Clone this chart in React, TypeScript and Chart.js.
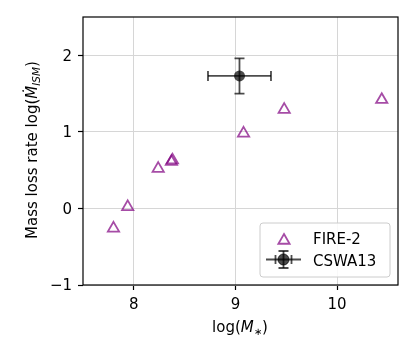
import React, { useEffect, useRef } from "react";
import { Chart, registerables } from "chart.js";

Chart.register(...registerables);

// ---- Data ----
const fireMass = [7.8, 7.94, 8.24, 8.37, 8.38, 9.08, 9.48, 10.44];
const fireRate = [-0.26, 0.02, 0.52, 0.61, 0.63, 0.98, 1.29, 1.42];

const cswaMass = [9.04];
const cswaRate = [1.73];
const cswaMassErr = [0.31];
const cswaRateErr = [0.23];

const xTicks = [8, 9, 10];
const yTicks = [-1, 0, 1, 2];
const xRange = [7.5, 10.6];
const yRange = [-1, 2.5];

const seriesNames = ["FIRE-2", "CSWA13"];

const FONT = "'DejaVu Sans', 'Liberation Sans', sans-serif";
const PURPLE = "rgba(128,0,128,0.7)";
const DARK = "rgba(0,0,0,0.7)";

type Seg = { t: string; font: string; dy?: number };

function drawRich(ctx: CanvasRenderingContext2D, segs: Seg[], cx: number, baseY: number) {
  let total = 0;
  const widths = segs.map((s) => {
    ctx.font = s.font;
    const w = ctx.measureText(s.t).width;
    total += w;
    return w;
  });
  let x = cx - total / 2;
  ctx.textAlign = "left";
  ctx.textBaseline = "alphabetic";
  segs.forEach((s, i) => {
    ctx.font = s.font;
    ctx.fillText(s.t, x, baseY + (s.dy || 0));
    x += widths[i];
  });
}

function triPath(ctx: CanvasRenderingContext2D, x: number, y: number, r: number) {
  ctx.beginPath();
  ctx.moveTo(x, y - r);
  ctx.lineTo(x + r * Math.sin(Math.PI / 3), y + r / 2);
  ctx.lineTo(x - r * Math.sin(Math.PI / 3), y + r / 2);
  ctx.closePath();
}

function drawErrSymbol(
  ctx: CanvasRenderingContext2D,
  x: number,
  y: number,
  x0: number,
  x1: number,
  y0: number,
  y1: number,
  cap: number
) {
  ctx.save();
  ctx.strokeStyle = DARK;
  ctx.lineWidth = 1.8;
  ctx.lineCap = "butt";
  ctx.beginPath();
  ctx.moveTo(x0, y);
  ctx.lineTo(x1, y);
  ctx.stroke();
  ctx.beginPath();
  ctx.moveTo(x, y0);
  ctx.lineTo(x, y1);
  ctx.stroke();
  if (cap > 0) {
    ctx.beginPath();
    ctx.moveTo(x0, y - cap);
    ctx.lineTo(x0, y + cap);
    ctx.moveTo(x1, y - cap);
    ctx.lineTo(x1, y + cap);
    ctx.moveTo(x - cap, y0);
    ctx.lineTo(x + cap, y0);
    ctx.moveTo(x - cap, y1);
    ctx.lineTo(x + cap, y1);
    ctx.stroke();
  }
  ctx.restore();
}

export default function App() {
  const ref = useRef<HTMLCanvasElement>(null);

  useEffect(() => {
    const canvas = ref.current;
    if (!canvas) return;

    const errorBars = {
      id: "errorBars",
      beforeDatasetsDraw(chart: any) {
        const ctx: CanvasRenderingContext2D = chart.ctx;
        const xs = chart.scales.x;
        const ys = chart.scales.y;
        for (let i = 0; i < cswaMass.length; i++) {
          const px = xs.getPixelForValue(cswaMass[i]);
          const py = ys.getPixelForValue(cswaRate[i]);
          const x0 = xs.getPixelForValue(cswaMass[i] - cswaMassErr[i]);
          const x1 = xs.getPixelForValue(cswaMass[i] + cswaMassErr[i]);
          const y0 = ys.getPixelForValue(cswaRate[i] + cswaRateErr[i]);
          const y1 = ys.getPixelForValue(cswaRate[i] - cswaRateErr[i]);
          drawErrSymbol(ctx, px, py, x0, x1, y0, y1, 5);
        }
      },
    };

    const decor = {
      id: "decor",
      afterDraw(chart: any) {
        const ctx: CanvasRenderingContext2D = chart.ctx;
        const a = chart.chartArea;
        ctx.save();
        ctx.strokeStyle = "#000";
        ctx.lineWidth = 1.2;
        ctx.strokeRect(a.left, a.top, a.right - a.left, a.bottom - a.top);

        // legend box
        const lx = 260,
          ly = 223,
          lw = 130,
          lh = 54,
          r = 3;
        ctx.beginPath();
        ctx.moveTo(lx + r, ly);
        ctx.lineTo(lx + lw - r, ly);
        ctx.arcTo(lx + lw, ly, lx + lw, ly + r, r);
        ctx.lineTo(lx + lw, ly + lh - r);
        ctx.arcTo(lx + lw, ly + lh, lx + lw - r, ly + lh, r);
        ctx.lineTo(lx + r, ly + lh);
        ctx.arcTo(lx, ly + lh, lx, ly + lh - r, r);
        ctx.lineTo(lx, ly + r);
        ctx.arcTo(lx, ly, lx + r, ly, r);
        ctx.closePath();
        ctx.fillStyle = "rgba(255,255,255,0.85)";
        ctx.fill();
        ctx.strokeStyle = "#cccccc";
        ctx.lineWidth = 1;
        ctx.stroke();

        // legend entry 1: triangle
        ctx.strokeStyle = PURPLE;
        ctx.lineWidth = 1.8;
        triPath(ctx, 284, 240.5, 6.5);
        ctx.stroke();

        // legend entry 2: errorbar symbol
        drawErrSymbol(ctx, 283.5, 259.5, 266, 301, 251, 268, 0);
        ctx.save();
        ctx.strokeStyle = DARK;
        ctx.lineWidth = 1.8;
        ctx.beginPath();
        ctx.moveTo(275.5, 255);
        ctx.lineTo(275.5, 264);
        ctx.moveTo(291.5, 255);
        ctx.lineTo(291.5, 264);
        ctx.moveTo(278.5, 251);
        ctx.lineTo(288.5, 251);
        ctx.moveTo(278.5, 268);
        ctx.lineTo(288.5, 268);
        ctx.stroke();
        ctx.restore();
        ctx.beginPath();
        ctx.arc(283.5, 259.5, 5.5, 0, Math.PI * 2);
        ctx.fillStyle = DARK;
        ctx.fill();
        ctx.strokeStyle = DARK;
        ctx.lineWidth = 1;
        ctx.stroke();

        ctx.fillStyle = "#000";
        ctx.font = `15px ${FONT}`;
        ctx.textAlign = "left";
        ctx.textBaseline = "alphabetic";
        ctx.fillText(seriesNames[0], 313, 244);
        ctx.fillText(seriesNames[1], 313, 265.5);

        const norm = `15px ${FONT}`;
        const ital = `italic 15px ${FONT}`;
        const small = `10px ${FONT}`;
        const smallItal = `italic 10.5px ${FONT}`;
        // x axis title
        drawRich(
          ctx,
          [
            { t: "log(", font: norm },
            { t: "M", font: ital },
            { t: "\u2217", font: small, dy: 3 },
            { t: ")", font: norm },
          ],
          240,
          332
        );

        // y axis title
        ctx.save();
        ctx.translate(36.5, 150);
        ctx.rotate(-Math.PI / 2);
        drawRich(
          ctx,
          [
            { t: "Mass loss rate log(", font: norm },
            { t: "\u1E40", font: ital },
            { t: "ISM", font: smallItal, dy: 3.5 },
            { t: ")", font: norm },
          ],
          0,
          0
        );
        ctx.restore();

        ctx.restore();
      },
    };

    const fmt = (v: number) => (v < 0 ? "\u2212" + Math.abs(v) : String(v));

    const chart = new Chart(canvas, {
      type: "scatter",
      data: {
        datasets: [
          {
            label: seriesNames[0],
            data: fireMass.map((m, i) => ({ x: m, y: fireRate[i] })),
            pointStyle: "triangle",
            pointRadius: 6.5,
            pointHoverRadius: 6.5,
            borderWidth: 1.8,
            borderColor: PURPLE,
            backgroundColor: "rgba(0,0,0,0)",
          },
          {
            label: seriesNames[1],
            data: cswaMass.map((m, i) => ({ x: m, y: cswaRate[i] })),
            pointStyle: "circle",
            pointRadius: 5.5,
            pointHoverRadius: 5.5,
            borderWidth: 0,
            borderColor: DARK,
            backgroundColor: DARK,
          },
        ],
      },
      options: {
        animation: false,
        responsive: false,
        devicePixelRatio: 1,
        events: [],
        layout: { padding: { top: 17, right: 18, left: 0, bottom: 0 } },
        plugins: {
          legend: { display: false },
          tooltip: { enabled: false },
          title: { display: false },
        },
        scales: {
          x: {
            type: "linear",
            min: xRange[0],
            max: xRange[1],
            afterBuildTicks: (s: any) => {
              s.ticks = xTicks.map((v) => ({ value: v }));
            },
            afterFit: (s: any) => {
              s.height = 72;
            },
            ticks: {
              color: "#000",
              font: { family: FONT, size: 15 },
              padding: 6,
              callback: (v: any) => fmt(Number(v)),
              maxRotation: 0,
            },
            grid: {
              color: "#d6d6d6",
              lineWidth: 1,
              drawTicks: true,
              tickLength: 5,
              tickColor: "#000",
              tickWidth: 1.2,
            },
            border: { display: false },
          },
          y: {
            type: "linear",
            min: yRange[0],
            max: yRange[1],
            afterBuildTicks: (s: any) => {
              s.ticks = yTicks.map((v) => ({ value: v }));
            },
            afterFit: (s: any) => {
              s.width = 83;
            },
            ticks: {
              color: "#000",
              font: { family: FONT, size: 15 },
              padding: 6,
              labelOffset: 1.5,
              callback: (v: any) => fmt(Number(v)),
            },
            grid: {
              color: "#d6d6d6",
              lineWidth: 1,
              drawTicks: true,
              tickLength: 5,
              tickColor: "#000",
              tickWidth: 1.2,
            },
            border: { display: false },
          },
        },
      },
      plugins: [errorBars, decor],
    } as any);

    return () => {
      chart.destroy();
    };
  }, []);

  return (
    <div
      style={{
        position: "absolute",
        left: 0,
        top: 0,
        width: 416,
        height: 357,
        background: "#fff",
      }}
    >
      <canvas ref={ref} width={416} height={357} style={{ display: "block" }} />
    </div>
  );
}
